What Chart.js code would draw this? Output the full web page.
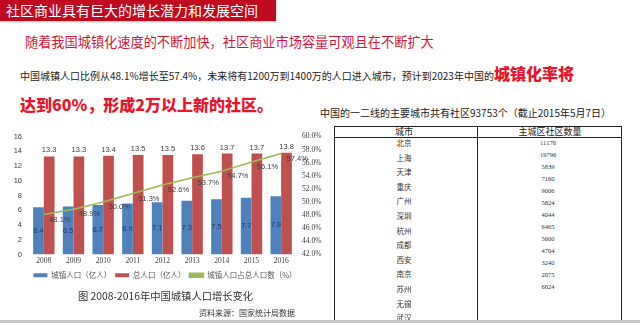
<!DOCTYPE html>
<html lang="zh-CN">
<head>
<meta charset="utf-8">
<script src="https://cdn.jsdelivr.net/npm/chart.js@4.4.0/dist/chart.umd.min.js"></script>
<style>
  body { margin: 0; width: 640px; height: 323px; overflow: hidden; background: #fff;
         font-family: "Noto Sans CJK SC", sans-serif; position: relative; }
  .abs { position: absolute; white-space: nowrap; }
  #title { left: 0; top: 0; width: 276px; height: 21px; background: #bf0a1f; color: #fff;
           font-size: 14px; line-height: 21px; padding-left: 6px; box-sizing: border-box;
           box-shadow: 0 1px 2px rgba(0,0,0,0.25); }
  #lead { left: 25px; top: 34px; font-size: 13.2px; color: #d3173c; line-height: 16px; }
  #line3 { left: 20px; top: 64px; font-size: 10px; color: #222; line-height: 18px;
           font-family: "Noto Sans CJK SC", serif; }
  #line3 b { font-size: 16px; color: #e8152d; font-weight: 900; }
  #line4 { left: 20px; top: 94px; font-size: 16px; color: #e8152d; font-weight: 900; line-height: 20px; }
  #chartBox { left: 0; top: 125px; width: 330px; height: 164px; }
  #caption { left: 78px; top: 289px; font-size: 10.3px; color: #333; line-height: 14px; }
  #source { left: 199px; top: 307px; font-size: 8px; color: #333; line-height: 11px; }
  #tblTitle { left: 320px; top: 105px; font-size: 10px; color: #222; line-height: 15px; }
  #tbl { left: 334px; top: 126px; width: 288px; height: 200px; border: 1px solid #222;
         box-sizing: border-box; }
  #tblMid { left: 477px; top: 126px; width: 1px; height: 200px; background: #222; }
  #tblHead { left: 334px; top: 137px; width: 288px; height: 1px; background: #222; }
  .th { font-size: 9px; color: #222; line-height: 12px; transform: translateX(-50%); }
  .city { font-size: 7.5px; color: #333; line-height: 10px; transform: translateX(-50%); }
  .num { font-size: 6.5px; color: #333; line-height: 9px; transform: translateX(-50%);
         font-family: "Liberation Serif", serif; }
  #bottomRule { left: 0; top: 320px; width: 640px; height: 3px; background: #c9c9c9; }
</style>
</head>
<body>
<div id="title" class="abs">社区商业具有巨大的增长潜力和发展空间</div>
<div id="lead" class="abs">随着我国城镇化速度的不断加快，社区商业市场容量可观且在不断扩大</div>
<div id="line3" class="abs">中国城镇人口比例从48.1%增长至57.4%，未来将有1200万到1400万的人口进入城市，预计到2023年中国的<b>城镇化率将</b></div>
<div id="line4" class="abs">达到60%，形成2万以上新的社区。</div>

<div id="chartBox" class="abs"><canvas id="popChart"></canvas></div>
<div id="caption" class="abs">图 2008-2016年中国城镇人口增长变化</div>
<div id="source" class="abs">资料来源：国家统计局数据</div>

<div id="tblTitle" class="abs">中国的一二线的主要城市共有社区93753个（截止2015年5月7日）</div>
<div id="tbl" class="abs"></div>
<div id="tblMid" class="abs"></div>
<div id="tblHead" class="abs"></div>
<div id="tblCells"></div>
<div id="bottomRule" class="abs"></div>

<script>
// population data, 2008-2016
const years = ['2008', '2009', '2010', '2011', '2012', '2013', '2014', '2015', '2016'];
const urbanPop = [6.4, 6.5, 6.7, 6.9, 7.1, 7.3, 7.5, 7.7, 7.9];        // 亿人
const totalPop = [13.3, 13.3, 13.4, 13.5, 13.5, 13.6, 13.7, 13.7, 13.8]; // 亿人
const urbanRate = [48.1, 48.9, 50.0, 51.3, 52.6, 53.7, 54.7, 56.1, 57.4]; // %

const leftTicks = [0, 2, 4, 6, 8, 10, 12, 14, 16];
const rightTicks = [42, 44, 46, 48, 50, 52, 54, 56, 58, 60];

// community table
const tableHeader = ['城市', '主城区社区数量'];
const cities = ['北京', '上海', '天津', '重庆', '广州', '深圳', '杭州', '成都', '西安', '南京', '苏州', '无锡', '武汉'];
const communityCounts = [11176, 19796, 5839, 7160, 9006, 5824, 4044, 6465, 5600, 4704, 3240, 2075, 6824];

// ---- table cells ----
const cells = document.getElementById('tblCells');
function addCell(cls, text, x, yCenter, h) {
  const d = document.createElement('div');
  d.className = 'abs ' + cls;
  d.textContent = text;
  d.style.left = x + 'px';
  d.style.top = (yCenter - h / 2) + 'px';
  cells.appendChild(d);
}
addCell('th', tableHeader[0], 404, 132, 12);
addCell('th', tableHeader[1], 550, 132, 12);
cities.forEach((c, i) => addCell('city', c, 404, 143 + i * 14.6, 10));
communityCounts.forEach((n, i) => addCell('num', String(n), 548, 142 + i * 12, 9));

// ---- chart ----
const BLUE = '#4f81bd';
const RED = '#c0504d';
const GREEN = '#9bbb59';

// writes the values onto bars and line
const valueLabels = {
  id: 'valueLabels',
  afterDatasetsDraw(chart) {
    const ctx = chart.ctx;
    ctx.save();
    ctx.textAlign = 'center';
    ctx.textBaseline = 'middle';
    ctx.font = '7.5px "Liberation Sans", sans-serif';
    chart.data.datasets.forEach((ds, di) => {
      const meta = chart.getDatasetMeta(di);
      meta.data.forEach((el, i) => {
        const v = ds.data[i];
        if (di === 0) {
          ctx.fillStyle = '#1f3a60';
          ctx.fillText(v.toFixed(1), el.x, (el.y + el.base) / 2);
        } else if (di === 1) {
          ctx.fillStyle = '#404040';
          ctx.fillText(v.toFixed(1), el.x, el.y - 6);
        } else {
          ctx.fillStyle = '#404040';
          ctx.fillText(v.toFixed(1) + '%', el.x + 16, el.y + 5);
        }
      });
    });
    ctx.restore();
  }
};

new Chart(document.getElementById('popChart'), {
  type: 'bar',
  data: {
    labels: years,
    datasets: [
      { label: '城镇人口（亿人）', data: urbanPop, backgroundColor: BLUE, yAxisID: 'y', order: 2,
        categoryPercentage: 0.72, barPercentage: 1.0 },
      { label: '总人口（亿人）', data: totalPop, backgroundColor: RED, yAxisID: 'y', order: 2,
        categoryPercentage: 0.72, barPercentage: 1.0 },
      { label: '城镇人口占总人口数（%）', type: 'line', data: urbanRate, borderColor: GREEN,
        backgroundColor: GREEN, borderWidth: 1.5, pointRadius: 0, tension: 0, yAxisID: 'y1', order: 1 }
    ]
  },
  options: {
    responsive: true,
    maintainAspectRatio: false,
    animation: false,
    layout: { padding: { top: 4, right: 0, left: 0, bottom: 0 } },
    plugins: {
      tooltip: { enabled: false },
      legend: {
        position: 'bottom',
        labels: {
          boxWidth: 14, boxHeight: 4, padding: 4, color: '#595959',
          font: { size: 7.5, family: '"Noto Sans CJK SC", sans-serif' },
          sort: (a, b) => a.datasetIndex - b.datasetIndex
        }
      }
    },
    scales: {
      x: {
        grid: { display: false, drawTicks: false },
        border: { display: false },
        ticks: { color: '#404040', padding: 2, font: { size: 7.5, family: '"Liberation Serif", serif' } }
      },
      y: {
        position: 'left',
        min: leftTicks[0], max: leftTicks[leftTicks.length - 1],
        afterBuildTicks(scale) { scale.ticks = leftTicks.map(v => ({ value: v })); },
        afterFit(scale) { scale.width = 29; },
        grid: { display: false, drawTicks: false },
        border: { display: false },
        ticks: { color: '#404040', padding: 7, autoSkip: false,
                 font: { size: 7.5, family: '"Liberation Sans", sans-serif' } }
      },
      y1: {
        position: 'right',
        min: rightTicks[0], max: rightTicks[rightTicks.length - 1],
        afterBuildTicks(scale) { scale.ticks = rightTicks.map(v => ({ value: v })); },
        afterFit(scale) { scale.width = 34; },
        grid: { display: false, drawTicks: false },
        border: { display: false },
        ticks: { color: '#404040', padding: 6, autoSkip: false, callback: v => v.toFixed(1) + '%',
                 font: { size: 7.5, family: '"Liberation Serif", serif' } }
      }
    }
  },
  plugins: [valueLabels]
});
</script>
</body>
</html>
